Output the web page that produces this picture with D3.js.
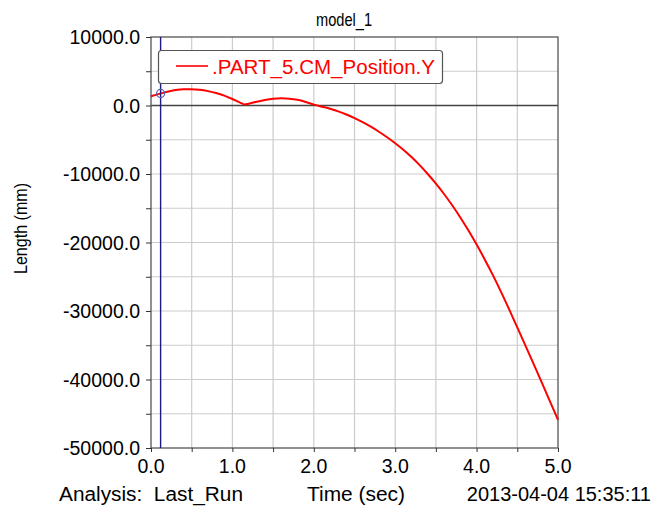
<!DOCTYPE html>
<html>
<head>
<meta charset="utf-8">
<script src="https://cdn.jsdelivr.net/npm/d3@7"></script>
<style>
  html, body { margin: 0; padding: 0; background: #fff; }
  svg { display: block; font-family: "Liberation Sans", Arial, sans-serif; }
</style>
</head>
<body>
<svg id="chart" width="658" height="514"></svg>
<script>
// Time samples (sec) and the Y position of PART_5's centre of mass (mm)
const timeSec = [0.0, 0.1, 0.2, 0.3, 0.4, 0.5, 0.6, 0.7, 0.8, 0.9, 1.0, 1.1, 1.15,
                 1.2, 1.3, 1.4, 1.5, 1.6, 1.7, 1.8, 1.9, 2.0, 2.1, 2.2, 2.3, 2.4, 2.5,
                 2.6, 2.7, 2.8, 2.9, 3.0, 3.1, 3.2, 3.3, 3.4, 3.5, 3.6, 3.7, 3.8, 3.9,
                 4.0, 4.1, 4.2, 4.3, 4.4, 4.5, 4.6, 4.7, 4.8, 4.9, 5.0];
const positionY = [1350, 1700, 2010, 2250, 2380, 2390, 2290, 2100, 1830, 1450, 950, 380, 160,
                   270, 560, 810, 980, 1050, 1000, 830, 520, 130, -170, -470, -850, -1310, -1850,
                   -2440, -3100, -3830, -4630, -5500, -6460, -7530, -8710, -10000, -11400,
                   -12920, -14570, -16350, -18260, -20300, -22470, -24770, -27210, -29770,
                   -32400, -35050, -37730, -40430, -43150, -45900];

const xTicks = [0, 1, 2, 3, 4, 5];
const yTicks = [10000, 0, -10000, -20000, -30000, -40000, -50000];
const seriesName = ".PART_5.CM_Position.Y";
const cursorTime = 0.118;

const svg = d3.select("#chart");
const m = { left: 151, right: 558, top: 37, bottom: 448 };

const x = d3.scaleLinear().domain([0, 5]).range([m.left, m.right]);
const y = d3.scaleLinear().domain([-50000, 10000]).range([m.bottom, m.top]);

// grid
const grid = svg.append("g").attr("stroke", "#cccccc").attr("stroke-width", 1.2);
grid.selectAll("line.v").data(d3.range(0.5, 5, 0.5)).join("line")
  .attr("x1", d => x(d)).attr("x2", d => x(d))
  .attr("y1", m.top).attr("y2", m.bottom);
grid.selectAll("line.h").data(d3.range(-45000, 10000, 5000)).join("line")
  .attr("x1", m.left).attr("x2", m.right)
  .attr("y1", d => y(d)).attr("y2", d => y(d));

// zero line
svg.append("line")
  .attr("x1", m.left).attr("x2", m.right)
  .attr("y1", y(0)).attr("y2", y(0))
  .attr("stroke", "#444").attr("stroke-width", 1.3);

// frame
svg.append("rect")
  .attr("x", m.left).attr("y", m.top)
  .attr("width", m.right - m.left).attr("height", m.bottom - m.top)
  .attr("fill", "none").attr("stroke", "#555").attr("stroke-width", 1.3);

// axes
const yAxis = d3.axisLeft(y).tickValues(d3.range(-50000, 10001, 5000))
  .tickSize(5).tickFormat(() => "");
svg.append("g").attr("transform", `translate(${m.left},0)`).call(yAxis)
  .call(g => g.select(".domain").remove())
  .call(g => g.selectAll("line").attr("stroke", "#333"));
svg.append("g").selectAll("text").data(yTicks).join("text")
  .attr("x", 140).attr("y", d => y(d) + 7)
  .attr("text-anchor", "end").attr("font-size", 19.5).attr("fill", "#000")
  .text(d => d.toFixed(1));

const xAxis = d3.axisBottom(x).tickValues(d3.range(0, 5.01, 0.5))
  .tickSize(4).tickFormat(() => "");
svg.append("g").attr("transform", `translate(0,${m.bottom})`).call(xAxis)
  .call(g => g.select(".domain").remove())
  .call(g => g.selectAll("line").attr("stroke", "#333"));
svg.append("g").selectAll("text").data(xTicks).join("text")
  .attr("x", d => x(d)).attr("y", 473)
  .attr("text-anchor", "middle").attr("font-size", 19.5).attr("fill", "#000")
  .text(d => d.toFixed(1));

// curve
const pts = timeSec.map((t, i) => [t, positionY[i]]);
svg.append("path").datum(pts)
  .attr("fill", "none").attr("stroke", "#ff0000").attr("stroke-width", 2)
  .attr("d", d3.line().x(d => x(d[0])).y(d => y(d[1])).curve(d3.curveMonotoneX));

// cursor line and marker
svg.append("line")
  .attr("x1", x(cursorTime)).attr("x2", x(cursorTime))
  .attr("y1", m.top).attr("y2", m.bottom)
  .attr("stroke", "#1c1c80").attr("stroke-width", 1.4);
const cursorVal = d3.scaleLinear().domain(timeSec).range(positionY)(cursorTime);
svg.append("circle")
  .attr("cx", x(cursorTime)).attr("cy", y(cursorVal)).attr("r", 4)
  .attr("fill", "none").attr("stroke", "#5a5aa8").attr("stroke-width", 1.2);

// legend
svg.append("rect")
  .attr("x", 158.5).attr("y", 50.5).attr("width", 284).attr("height", 33).attr("rx", 3)
  .attr("fill", "#fff").attr("stroke", "#555").attr("stroke-width", 1.2);
svg.append("line")
  .attr("x1", 176).attr("x2", 208).attr("y1", 66).attr("y2", 66)
  .attr("stroke", "#ff0000").attr("stroke-width", 1.6);
svg.append("text")
  .attr("x", 212).attr("y", 74).attr("font-size", 20).attr("fill", "#ff0000")
  .attr("textLength", 223).attr("lengthAdjust", "spacingAndGlyphs")
  .text(seriesName);

// titles
svg.append("text").attr("x", 316).attr("y", 26)
  .attr("font-size", 19).attr("textLength", 56).attr("lengthAdjust", "spacingAndGlyphs")
  .text("model_1");
svg.append("text").attr("transform", "translate(27,228.5) rotate(-90)")
  .attr("text-anchor", "middle").attr("font-size", 18.5)
  .attr("textLength", 91).attr("lengthAdjust", "spacingAndGlyphs")
  .text("Length (mm)");
svg.append("text").attr("x", 59).attr("y", 501).attr("font-size", 20)
  .attr("textLength", 184).attr("lengthAdjust", "spacingAndGlyphs")
  .style("white-space", "pre").text("Analysis:  Last_Run");
svg.append("text").attr("x", 307).attr("y", 501)
  .attr("font-size", 20).attr("textLength", 98).attr("lengthAdjust", "spacingAndGlyphs")
  .text("Time (sec)");
svg.append("text").attr("x", 651).attr("y", 501).attr("text-anchor", "end")
  .attr("font-size", 20).text("2013-04-04 15:35:11");
</script>
</body>
</html>
